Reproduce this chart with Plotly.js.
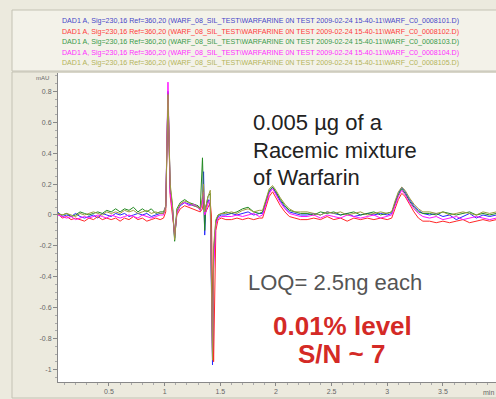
<!DOCTYPE html>
<html>
<head>
<meta charset="utf-8">
<script src="https://cdn.plot.ly/plotly-3.0.1.min.js"></script>
<style>html,body{margin:0;padding:0;background:#ECEADE;}#chart{width:496px;height:399px;}</style>
</head>
<body>
<div id="chart"></div>
<script>
// retention time (min)
var time = [0.04,0.08,0.12,0.16,0.20,0.24,0.28,0.32,0.36,0.40,0.44,0.48,0.52,0.56,0.60,0.64,0.68,0.72,0.76,0.80,0.84,0.88,0.92,0.96,
  0.99,1.01,1.03,1.05,1.07,1.09,1.11,1.14,1.18,1.22,1.26,1.30,
  1.32,1.34,1.35,1.36,1.37,1.39,1.41,1.42,1.43,1.44,1.46,1.48,1.51,1.55,
  1.60,1.65,1.70,1.75,1.80,1.85,
  1.88,1.91,1.94,1.97,2.00,2.04,2.08,2.12,2.17,2.22,
  2.28,2.34,2.40,2.46,2.52,2.58,2.64,2.70,2.76,2.82,2.88,2.94,3.00,
  3.04,3.07,3.10,3.13,3.16,3.20,3.24,3.28,3.32,
  3.38,3.44,3.50,3.56,3.62,3.68,3.74,3.80,3.86,3.92,3.98];

var run101 = [0.02,-0.01,0.00,-0.01,0.01,-0.01,-0.02,-0.01,0.00,-0.02,0.01,0.00,-0.01,0.01,0.00,0.01,-0.01,0.00,0.01,0.00,0.01,-0.01,0.00,0.01,
  0.01,0.05,0.80,0.15,0.05,-0.15,0.02,0.06,0.08,0.07,0.06,0.05,
  0.03,0.10,0.28,-0.13,0.05,0.10,0.05,-0.60,-0.97,-0.30,-0.05,-0.01,0.00,0.00,
  0.01,0.00,0.01,0.02,0.00,0.01,
  0.01,0.08,0.15,0.18,0.14,0.09,0.05,0.02,0.01,0.00,
  0.00,0.01,0.00,0.02,0.01,0.00,0.01,-0.01,0.00,0.01,0.00,0.01,0.00,
  0.01,0.08,0.14,0.18,0.15,0.10,0.06,0.03,0.01,
  0.00,0.01,-0.01,0.00,-0.03,-0.01,0.01,-0.02,0.00,-0.01,0.00];

var run102 = [0.01,-0.02,-0.01,-0.03,-0.02,-0.03,-0.04,-0.02,-0.03,-0.01,-0.03,-0.02,-0.03,-0.02,-0.04,-0.02,-0.03,-0.01,-0.03,-0.02,-0.04,-0.03,-0.02,-0.03,
  -0.02,0.02,0.78,0.12,0.00,-0.12,0.00,0.04,0.06,0.05,0.04,0.03,
  0.02,0.04,0.10,0.06,0.02,0.05,0.08,0.00,-0.70,-0.95,-0.10,-0.03,-0.02,-0.03,
  -0.03,-0.02,-0.03,-0.02,-0.03,-0.02,
  -0.02,0.05,0.12,0.15,0.11,0.06,0.02,-0.01,-0.02,-0.03,
  -0.03,-0.02,-0.03,-0.01,-0.03,-0.02,-0.04,-0.02,-0.03,-0.02,-0.03,-0.02,-0.03,
  -0.02,0.04,0.10,0.14,0.12,0.07,0.02,-0.02,-0.04,
  -0.04,-0.05,-0.04,-0.05,-0.04,-0.03,-0.05,-0.04,-0.03,-0.04,-0.03];

var run103 = [0.01,0.00,0.01,-0.01,0.00,0.02,0.01,0.00,0.01,0.02,0.01,0.03,0.02,0.04,0.02,0.04,0.03,0.05,0.02,0.04,0.02,0.04,0.01,0.02,
  0.02,0.06,0.79,0.18,0.06,-0.17,0.04,0.08,0.10,0.08,0.07,0.06,
  0.04,0.37,0.10,-0.10,0.05,0.12,0.14,-0.50,-0.90,-0.25,-0.04,0.00,0.01,0.02,
  0.01,0.02,0.04,0.05,0.02,0.01,
  0.02,0.09,0.16,0.18,0.15,0.10,0.06,0.03,0.02,0.01,
  0.01,0.00,0.02,0.01,0.02,0.00,0.01,0.02,0.00,0.01,0.02,0.00,0.01,
  0.02,0.07,0.13,0.17,0.14,0.09,0.05,0.02,0.01,
  0.01,0.00,0.02,0.01,0.00,0.01,0.02,0.00,0.01,0.00,0.01];

var run104 = [0.00,-0.01,-0.02,-0.01,-0.03,-0.02,-0.01,-0.02,-0.01,0.00,-0.01,-0.02,0.00,-0.01,-0.02,-0.01,0.00,-0.01,-0.02,0.00,-0.01,-0.02,-0.01,0.00,
  0.00,0.06,0.86,0.14,0.03,-0.14,0.01,0.07,0.08,0.06,0.07,0.05,
  0.03,0.08,0.15,0.00,0.02,0.08,0.10,-0.40,-0.92,-0.35,-0.06,-0.02,-0.01,-0.01,
  -0.01,0.00,-0.01,0.00,0.01,-0.01,
  0.00,0.07,0.14,0.17,0.13,0.08,0.04,0.01,0.00,-0.01,
  -0.01,0.00,-0.02,0.00,-0.01,-0.02,0.00,-0.01,-0.02,-0.01,0.00,-0.02,-0.01,
  0.00,0.06,0.12,0.16,0.13,0.08,0.04,0.01,-0.01,
  -0.02,-0.01,-0.03,-0.02,-0.01,-0.03,-0.02,-0.01,-0.02,-0.03,-0.02];

var run105 = [0.01,0.00,0.01,0.00,-0.01,0.01,0.00,0.01,0.02,0.01,0.00,0.02,0.01,0.02,0.01,0.03,0.02,0.03,0.01,0.02,0.03,0.01,0.02,0.01,
  0.01,0.05,0.78,0.20,0.07,-0.16,0.03,0.07,0.09,0.08,0.06,0.05,
  0.04,0.12,0.20,0.02,0.06,0.12,0.16,-0.55,-0.94,-0.20,-0.03,0.00,0.01,0.01,
  0.02,0.01,0.03,0.04,0.02,0.03,
  0.03,0.10,0.17,0.19,0.16,0.11,0.07,0.04,0.02,0.02,
  0.02,0.01,0.00,0.02,0.01,0.02,0.00,0.01,0.02,0.00,0.01,0.02,0.01,
  0.02,0.09,0.15,0.18,0.16,0.11,0.07,0.04,0.02,
  0.02,0.01,0.02,0.00,0.01,0.02,0.01,0.00,0.02,0.01,0.02];

var seriesNames = [
  "DAD1 A, Sig=230,16 Ref=360,20 (WARF_08_SIL_TEST\\WARFARINE 0N TEST 2009-02-24 15-40-11\\WARF_C0_0008101.D)",
  "DAD1 A, Sig=230,16 Ref=360,20 (WARF_08_SIL_TEST\\WARFARINE 0N TEST 2009-02-24 15-40-11\\WARF_C0_0008102.D)",
  "DAD1 A, Sig=230,16 Ref=360,20 (WARF_08_SIL_TEST\\WARFARINE 0N TEST 2009-02-24 15-40-11\\WARF_C0_0008103.D)",
  "DAD1 A, Sig=230,16 Ref=360,20 (WARF_08_SIL_TEST\\WARFARINE 0N TEST 2009-02-24 15-40-11\\WARF_C0_0008104.D)",
  "DAD1 A, Sig=230,16 Ref=360,20 (WARF_08_SIL_TEST\\WARFARINE 0N TEST 2009-02-24 15-40-11\\WARF_C0_0008105.D)"
];
var seriesValues = [run101, run102, run103, run104, run105];
var lineColors = ["#2828ff", "#ff2828", "#228a22", "#ff10ff", "#9c9c3c"];
var textColors = ["#4848c8", "#ff3c3c", "#3a9a4a", "#ff30ff", "#b4b45a"];

var xTickVals = [0.5, 1, 1.5, 2, 2.5, 3, 3.5];
var xTickText = ["0.5", "1", "1.5", "2", "2.5", "3", "3.5"];
var yTickVals = [0.8, 0.6, 0.4, 0.2, 0, -0.2, -0.4, -0.6, -0.8, -1];
var yTickText = ["0.8", "0.6", "0.4", "0.2", "0", "-0.2", "-0.4", "-0.6", "-0.8", "-1"];

var traces = seriesValues.map(function (v, i) {
  return {x: time, y: v, type: "scatter", mode: "lines", name: seriesNames[i],
    line: {color: lineColors[i], width: 1}, hoverinfo: "skip"};
});

// pixel helpers for paper coords (plot area 58..496 x 73..382)
function px(x) { return (x - 58) / 438; }
function py(y) { return (382 - y) / 309; }

var annotations = [];
var legendY = [21.5, 32, 42.5, 52.8, 63];
seriesNames.forEach(function (n, i) {
  annotations.push({xref: "paper", yref: "paper", x: px(60), y: py(legendY[i]), xanchor: "left", yanchor: "middle",
    text: n, showarrow: false, font: {family: "Liberation Sans", size: 7.1, color: textColors[i]}});
});
var big = {family: "Liberation Sans", size: 22, color: "#222"};
annotations.push({xref: "paper", yref: "paper", x: px(251), y: py(122), xanchor: "left", yanchor: "middle", showarrow: false, text: "0.005 µg of a", font: big});
annotations.push({xref: "paper", yref: "paper", x: px(251), y: py(150), xanchor: "left", yanchor: "middle", showarrow: false, text: "Racemic mixture", font: big});
annotations.push({xref: "paper", yref: "paper", x: px(251), y: py(177), xanchor: "left", yanchor: "middle", showarrow: false, text: "of Warfarin", font: big});
annotations.push({xref: "paper", yref: "paper", x: px(246), y: py(282), xanchor: "left", yanchor: "middle", showarrow: false, text: "LOQ= 2.5ng each", font: {family: "Liberation Sans", size: 22, color: "#555"}});
annotations.push({xref: "paper", yref: "paper", x: px(342), y: py(326), xanchor: "center", yanchor: "middle", showarrow: false, text: "<b>0.01% level</b>", font: {family: "Liberation Sans", size: 26, color: "#d42a26"}});
annotations.push({xref: "paper", yref: "paper", x: px(341), y: py(354), xanchor: "center", yanchor: "middle", showarrow: false, text: "<b>S/N ~ 7</b>", font: {family: "Liberation Sans", size: 26, color: "#d42a26"}});
annotations.push({xref: "paper", yref: "paper", x: px(51), y: py(78), xanchor: "right", yanchor: "middle", showarrow: false, text: "mAU", font: {family: "Liberation Sans", size: 6, color: "#666"}});
annotations.push({xref: "paper", yref: "paper", x: px(496), y: py(392), xanchor: "right", yanchor: "middle", showarrow: false, text: "min", font: {family: "Liberation Sans", size: 7, color: "#666"}});

var shapes = [
  {type: "rect", xref: "paper", yref: "paper", x0: px(12), x1: px(500), y0: py(71), y1: py(10), line: {color: "#c4c2b4", width: 1}, fillcolor: "#F3F2E9", layer: "below"},
  {type: "rect", xref: "paper", yref: "paper", x0: px(12), x1: px(500), y0: py(398), y1: py(72), line: {color: "#c4c2b4", width: 1}, fillcolor: "rgba(0,0,0,0)", layer: "below"}
];

var layout = {
  width: 496, height: 399,
  margin: {l: 58, r: 0, t: 73, b: 17, pad: 0},
  paper_bgcolor: "#ECEADE", plot_bgcolor: "#ffffff",
  showlegend: false,
  xaxis: {range: [0.042, 3.977], tickvals: xTickVals, ticktext: xTickText, ticks: "outside", ticklen: 3, tickcolor: "#888",
    showgrid: false, zeroline: false, showline: true, linecolor: "#888", linewidth: 1,
    tickfont: {family: "Liberation Sans", size: 7, color: "#666"},
    minor: {dtick: 0.1, ticks: "outside", ticklen: 2, tickcolor: "#aaa", showgrid: false}},
  yaxis: {range: [-1.081, 0.919], tickvals: yTickVals, ticktext: yTickText, ticks: "outside", ticklen: 4, tickcolor: "#888",
    showgrid: false, zeroline: false, showline: true, linecolor: "#888", linewidth: 1,
    tickfont: {family: "Liberation Sans", size: 7, color: "#666"},
    minor: {dtick: 0.05, ticks: "outside", ticklen: 2, tickcolor: "#aaa", showgrid: false}},
  annotations: annotations,
  shapes: shapes
};

Plotly.newPlot("chart", traces, layout, {displayModeBar: false, staticPlot: true});
</script>
</body>
</html>
